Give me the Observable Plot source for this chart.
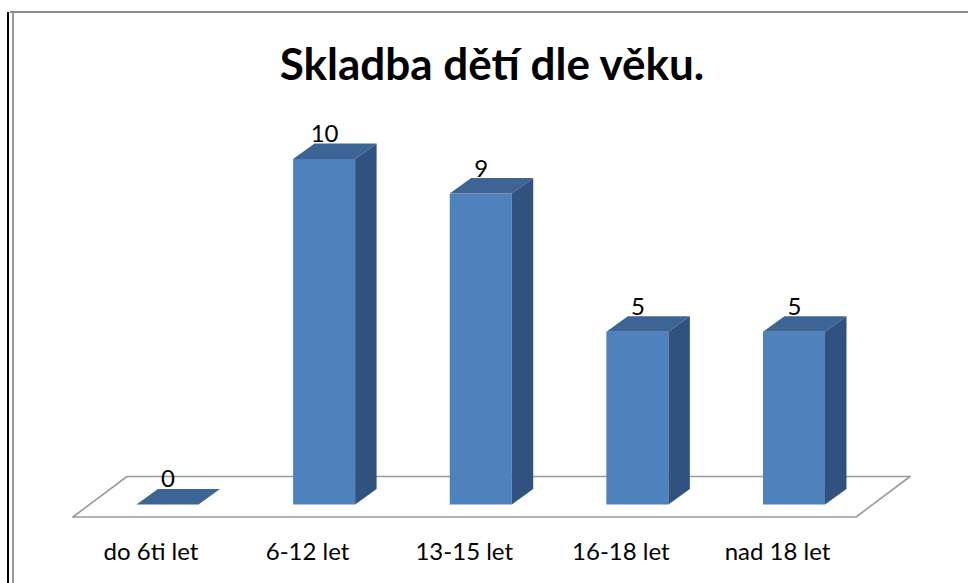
<!DOCTYPE html>
<html>
<head>
<meta charset="utf-8">
<script src="https://cdn.jsdelivr.net/npm/d3@7"></script>
<script src="https://cdn.jsdelivr.net/npm/@observablehq/plot@0.6"></script>
<style>
  html, body { margin: 0; padding: 0; background: #fff; }
  #frame { position: relative; width: 968px; height: 583px; overflow: hidden; background: #fff; }
  #outer { position: absolute; left: 7px; top: 12px; width: 2px; height: 600px; background: #000; }
  #innerL { position: absolute; left: 12px; top: 12px; width: 1.5px; height: 600px; background: #999; }
  #innerT { position: absolute; left: 10px; top: 11px; width: 970px; height: 1.7px; background: #8c8c8c; }
  #title { position: absolute; left: 0; top: 0; width: 968px; height: 110px; box-sizing: border-box; padding-top: 41px; padding-left: 16px;
           font: bold 44px Lato, sans-serif; line-height: 44px; text-align: center; color: #000; }
  #chart { position: absolute; left: 0; top: 110px; }
  #chart svg { display: block; }
</style>
</head>
<body>
<div id="frame">
  <div id="outer"></div>
  <div id="innerL"></div>
  <div id="innerT"></div>
  <div id="title">Skladba dětí dle věku.</div>
  <div id="chart"></div>
</div>
<script>
// ---- data ----
const categories = ["do 6ti let", "6-12 let", "13-15 let", "16-18 let", "nad 18 let"];
const values = [0, 10, 9, 5, 5];
const valueTicks = [0, 10];

// ---- 3D geometry (in scale units) ----
const HW = 0.198;      // half bar width (x units)
const DX = 0.137;      // bar depth, x
const DY = 0.449;      // bar depth, y
const FDX = 0.345;     // floor depth, x
const FDY = 1.172;     // floor depth, y

const bars = categories.map((c, i) => ({i, c, v: values[i]}));
const n = bars.length;

const sideData = bars.flatMap(b => [
  {i: b.i, x: b.i + HW, y1: 0, y2: b.v},
  {i: b.i, x: b.i + HW + DX, y1: DY, y2: b.v + DY}
]);
const topData = bars.flatMap(b => [
  {i: b.i, y: b.v, x1: b.i - HW, x2: b.i + HW},
  {i: b.i, y: b.v + DY, x1: b.i - HW + DX, x2: b.i + HW + DX}
]);
const midY = DY / 2, midX = DX / 2;
const floorData = [
  {y: midY - FDY / 2, x1: -0.5 + midX - FDX / 2, x2: n - 0.5 + midX - FDX / 2},
  {y: midY + FDY / 2, x1: -0.5 + midX + FDX / 2, x2: n - 0.5 + midX + FDX / 2}
];

const chart = Plot.plot({
  width: 968,
  height: 473,
  marginTop: 0, marginRight: 0, marginLeft: 0, marginBottom: 53,
  style: {fontFamily: "Lato, sans-serif", fontSize: "24px", color: "#000", background: "transparent"},
  x: {type: "linear", domain: [0, n - 1], range: [167.5, 794], axis: null},
  y: {type: "linear", domain: valueTicks, range: [394.5, 49], axis: null},
  marks: [
    Plot.areaX(floorData, {y: "y", x1: "x1", x2: "x2", fill: "#fff", stroke: "#9a9a9a", strokeWidth: 1.6, curve: "linear"}),
    Plot.rect(bars, {x1: d => d.i - HW, x2: d => d.i + HW, y1: 0, y2: "v", fill: "#4F81BD", insetLeft: 0, insetRight: 0}),
    Plot.areaY(sideData, {x: "x", y1: "y1", y2: "y2", z: "i", fill: "#31527E", curve: "linear"}),
    Plot.areaX(topData, {y: "y", x1: "x1", x2: "x2", z: "i", fill: "#3C6494", curve: "linear"}),
    Plot.text(bars, {x: "i", y: d => d.v + DY, text: d => String(d.v), lineAnchor: "bottom", dy: -2, fill: "#000"}),
    Plot.axisX({ticks: d3.range(n), tickFormat: i => categories[i], tickSize: 0, tickPadding: 12, dx: -17, anchor: "bottom", fill: "#000"})
  ]
});
document.getElementById("chart").appendChild(chart);
</script>
</body>
</html>
